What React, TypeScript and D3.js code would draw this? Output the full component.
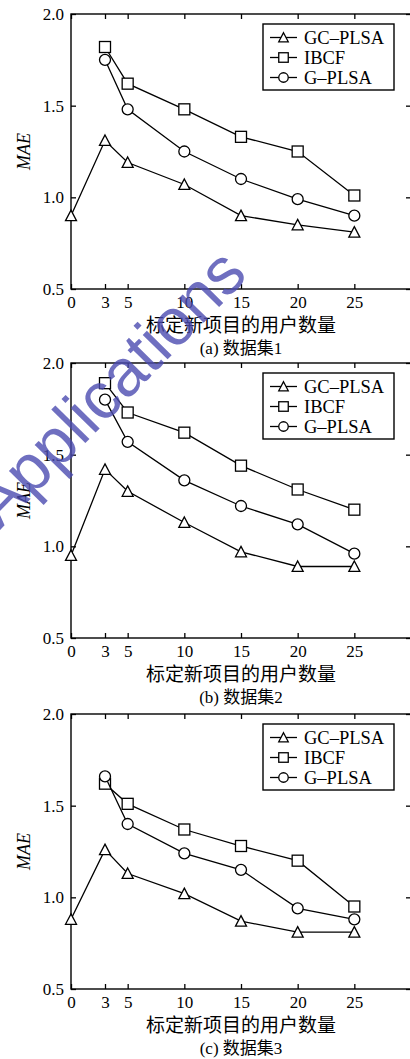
import React, { useEffect, useRef } from 'react';
import * as d3 from 'd3';

// x positions (number of users who rated the new item)
const userCounts = [0, 3, 5, 10, 15, 20, 25];
const yTicks = [0.5, 1.0, 1.5, 2.0];
const seriesNames = ['GC\u2013PLSA', 'IBCF', 'G\u2013PLSA'];
const captions = ['(a) 数据集1', '(b) 数据集2', '(c) 数据集3'];

// MAE (null = no point)
const gcA = [0.90, 1.31, 1.19, 1.07, 0.90, 0.85, 0.81];
const ibcfA = [null, 1.82, 1.62, 1.48, 1.33, 1.25, 1.01];
const gpA = [null, 1.75, 1.48, 1.25, 1.10, 0.99, 0.90];

const gcB = [0.95, 1.42, 1.30, 1.13, 0.97, 0.89, 0.89];
const ibcfB = [null, 1.89, 1.73, 1.62, 1.44, 1.31, 1.20];
const gpB = [null, 1.80, 1.57, 1.36, 1.22, 1.12, 0.96];

const gcC = [0.88, 1.26, 1.13, 1.02, 0.87, 0.81, 0.81];
const ibcfC = [null, 1.62, 1.51, 1.37, 1.28, 1.20, 0.95];
const gpC = [null, 1.66, 1.40, 1.24, 1.15, 0.94, 0.88];

const panels = [
    [gcA, ibcfA, gpA],
    [gcB, ibcfB, gpB],
    [gcC, ibcfC, gpC],
];

const W = 410;
const H = 1059;
const panelTops = [14, 363, 714];
const plotH = 275;
const left = 71;
const right = 411;
const serif = '"Liberation Serif", "Noto Sans CJK SC", serif';

function drawMarker(g, kind, x, y, size) {
    const h = size / 2;
    if (kind === 0) {
        g.append('path')
            .attr('d', `M${x},${y - h}L${x + h},${y + h * 0.9}L${x - h},${y + h * 0.9}Z`)
            .attr('fill', '#fff').attr('stroke', '#000').attr('stroke-width', 1.3);
    } else if (kind === 1) {
        g.append('rect')
            .attr('x', x - h).attr('y', y - h).attr('width', size).attr('height', size)
            .attr('fill', '#fff').attr('stroke', '#000').attr('stroke-width', 1.3);
    } else {
        g.append('circle')
            .attr('cx', x).attr('cy', y).attr('r', h)
            .attr('fill', '#fff').attr('stroke', '#000').attr('stroke-width', 1.3);
    }
}

export default function App() {
    const ref = useRef(null);

    useEffect(() => {
        const svg = d3.select(ref.current);
        svg.selectAll('*').remove();

        const xScale = d3.scaleLinear().domain([0, 30]).range([left, right]);

        panels.forEach((series, pi) => {
            const top = panelTops[pi];
            const bottom = top + plotH;
            const yScale = d3.scaleLinear().domain([0.5, 2.0]).range([bottom, top]);
            const g = svg.append('g');

            // axes, ticks pointing inward
            const axes = [
                [d3.axisBottom(xScale).tickValues(userCounts).tickSize(-5).tickPadding(7).tickFormat(d3.format('d')), `translate(0,${bottom})`],
                [d3.axisTop(xScale).tickValues(userCounts).tickSize(-5).tickFormat(() => ''), `translate(0,${top})`],
                [d3.axisLeft(yScale).tickValues(yTicks).tickSize(-5).tickPadding(7).tickFormat(d3.format('.1f')), `translate(${left},0)`],
                [d3.axisRight(yScale).tickValues(yTicks).tickSize(-5).tickFormat(() => ''), `translate(${right},0)`],
            ];
            axes.forEach(([axis, tr]) => {
                const a = g.append('g').attr('transform', tr).call(axis);
                a.select('.domain').remove();
                a.selectAll('line').attr('stroke', '#000').attr('stroke-width', 1.3);
                a.selectAll('text')
                    .attr('fill', '#000')
                    .style('font-family', serif)
                    .style('font-size', '17px');
            });

            g.append('rect')
                .attr('x', left).attr('y', top)
                .attr('width', right - left).attr('height', plotH)
                .attr('fill', 'none').attr('stroke', '#000').attr('stroke-width', 1.4);

            // series lines + markers
            const line = d3.line()
                .defined((d) => d[1] != null)
                .x((d) => xScale(d[0]))
                .y((d) => yScale(d[1]));
            series.forEach((vals, si) => {
                const pts = userCounts.map((u, i) => [u, vals[i]]);
                g.append('path')
                    .datum(pts)
                    .attr('d', line)
                    .attr('fill', 'none')
                    .attr('stroke', '#000')
                    .attr('stroke-width', 1.3);
                pts.filter((d) => d[1] != null).forEach((d) => {
                    drawMarker(g, si, xScale(d[0]), yScale(d[1]), 11);
                });
            });

            // legend
            const lg = g.append('g');
            lg.append('rect')
                .attr('x', 263).attr('y', top + 10)
                .attr('width', 131).attr('height', 66)
                .attr('fill', '#fff').attr('stroke', '#000').attr('stroke-width', 1.4);
            seriesNames.forEach((name, si) => {
                const ly = top + 23.5 + si * 20;
                lg.append('line')
                    .attr('x1', 270).attr('x2', 297).attr('y1', ly).attr('y2', ly)
                    .attr('stroke', '#000').attr('stroke-width', 1.3);
                drawMarker(lg, si, 283.5, ly, 9.5);
                lg.append('text')
                    .attr('x', 304).attr('y', ly)
                    .attr('dy', '0.34em')
                    .style('font-family', serif)
                    .style('font-size', '18.5px')
                    .text(name);
            });

            // axis titles
            g.append('text')
                .attr('transform', `translate(24,${(top + bottom) / 2}) rotate(-90)`)
                .attr('text-anchor', 'middle')
                .attr('dy', '0.35em')
                .style('font-family', serif)
                .style('font-style', 'italic')
                .style('font-size', '18px')
                .text('MAE');
            g.append('text')
                .attr('x', (left + right) / 2)
                .attr('y', bottom + 36)
                .attr('text-anchor', 'middle')
                .attr('dy', '0.35em')
                .style('font-family', serif)
                .style('font-size', '19px')
                .text('标定新项目的用户数量');
            g.append('text')
                .attr('x', (left + right) / 2)
                .attr('y', bottom + 59)
                .attr('text-anchor', 'middle')
                .attr('dy', '0.35em')
                .style('font-family', serif)
                .style('font-size', '17px')
                .text(captions[pi]);
        });

        // watermark
        svg.append('text')
            .attr('transform', 'translate(0,530) rotate(-45.5)')
            .style('font-family', '"Liberation Sans", sans-serif')
            .style('font-size', '66px')
            .attr('fill', '#4b4bb0')
            .attr('fill-opacity', 0.8)
            .text('Applications');
    }, []);

    return (
        <svg
            ref={ref}
            width={W}
            height={H}
            style={{ position: 'absolute', left: 0, top: 0, background: '#fff' }}
        />
    );
}
